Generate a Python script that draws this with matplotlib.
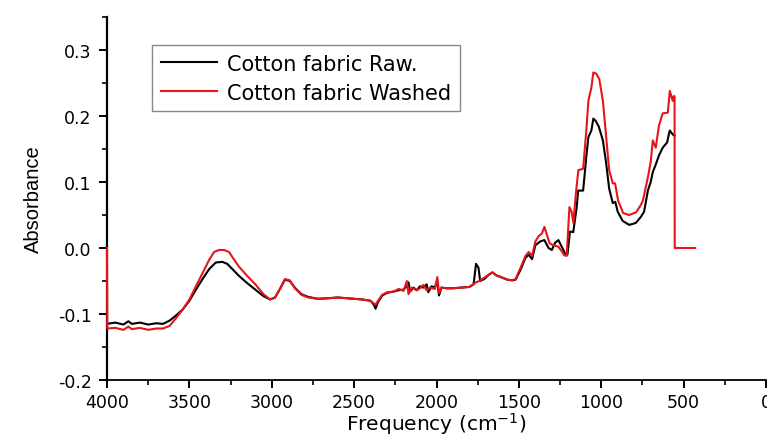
import matplotlib
matplotlib.use("Agg")
import matplotlib.pyplot as plt
from matplotlib.ticker import MultipleLocator
import numpy as np

plt.rcParams['font.family'] = ['DejaVu Sans']

# Spectre FTIR - tissu coton brut
nu_raw = [4000, 3950, 3900, 3870, 3850, 3800, 3750, 3700, 3660, 3620, 3580, 3540, 3500,
          3460, 3420, 3380, 3340, 3300, 3270, 3200, 3150, 3100, 3050, 3010, 2980, 2950,
          2920, 2890, 2860, 2820, 2780, 2720, 2650, 2600, 2550, 2500, 2450, 2400, 2380,
          2370, 2355, 2330, 2300, 2260, 2230, 2200, 2180, 2170, 2160, 2140, 2120, 2100,
          2080, 2060, 2050, 2030, 2010, 1995, 1985, 1970, 1940, 1900, 1850, 1800, 1775,
          1760, 1745, 1735, 1710, 1680, 1660, 1640, 1600, 1570, 1540, 1520, 1490, 1460,
          1440, 1420, 1400, 1370, 1345, 1320, 1300, 1280, 1260, 1240, 1220, 1205, 1190,
          1170, 1150, 1140, 1110, 1090, 1078, 1060, 1048, 1035, 1015, 990, 970, 952, 930,
          915, 900, 870, 830, 790, 760, 740, 717, 700, 687, 670, 650, 627, 600, 590, 584,
          566, 555]
abs_raw = [-0.115, -0.113, -0.116, -0.111, -0.115, -0.113, -0.116, -0.114, -0.115, -0.110,
           -0.102, -0.093, -0.080, -0.063, -0.047, -0.032, -0.022, -0.021, -0.024, -0.042,
           -0.053, -0.063, -0.073, -0.078, -0.075, -0.062, -0.048, -0.050, -0.060, -0.070,
           -0.074, -0.077, -0.076, -0.075, -0.076, -0.077, -0.078, -0.080, -0.086, -0.092,
           -0.082, -0.072, -0.068, -0.066, -0.064, -0.063, -0.058, -0.052, -0.066, -0.060,
           -0.064, -0.058, -0.060, -0.055, -0.067, -0.058, -0.060, -0.050, -0.072, -0.060,
           -0.061, -0.061, -0.060, -0.059, -0.055, -0.024, -0.030, -0.050, -0.047, -0.040,
           -0.037, -0.041, -0.045, -0.048, -0.049, -0.048, -0.033, -0.015, -0.010, -0.017,
           0.004, 0.010, 0.012, 0.000, -0.003, 0.008, 0.012, 0.002, -0.008, -0.010, 0.025,
           0.024, 0.060, 0.087, 0.087, 0.140, 0.168, 0.178, 0.196, 0.193, 0.184, 0.163,
           0.128, 0.090, 0.068, 0.070, 0.055, 0.041, 0.035, 0.038, 0.047, 0.055, 0.087,
           0.100, 0.115, 0.126, 0.140, 0.152, 0.160, 0.172, 0.178, 0.172, 0.170]

# Spectre FTIR - tissu coton lavé
nu_wash = [4000, 3998, 3950, 3900, 3870, 3850, 3800, 3750, 3700, 3660, 3620, 3580, 3540,
           3500, 3460, 3420, 3380, 3350, 3320, 3290, 3260, 3200, 3150, 3100, 3050, 3010,
           2980, 2950, 2920, 2890, 2860, 2820, 2780, 2720, 2650, 2600, 2550, 2500, 2450,
           2400, 2380, 2370, 2355, 2330, 2300, 2260, 2230, 2200, 2180, 2170, 2150, 2120,
           2100, 2080, 2060, 2040, 2010, 1995, 1985, 1970, 1940, 1900, 1850, 1800, 1760,
           1740, 1710, 1680, 1660, 1640, 1600, 1570, 1540, 1520, 1490, 1460, 1440, 1420,
           1400, 1380, 1360, 1345, 1330, 1313, 1290, 1260, 1240, 1225, 1210, 1193, 1180,
           1169, 1155, 1139, 1110, 1090, 1078, 1060, 1048, 1030, 1012, 990, 970, 952, 930,
           916, 898, 867, 831, 789, 760, 747, 717, 700, 687, 669, 650, 627, 596, 584, 566,
           560, 555, 554, 430]
abs_wash = [0.0, -0.122, -0.121, -0.124, -0.119, -0.123, -0.121, -0.124, -0.122, -0.122,
            -0.118, -0.106, -0.093, -0.078, -0.058, -0.038, -0.018, -0.006, -0.003, -0.003,
            -0.006, -0.028, -0.042, -0.055, -0.070, -0.078, -0.075, -0.062, -0.047, -0.049,
            -0.061, -0.071, -0.075, -0.077, -0.076, -0.075, -0.076, -0.077, -0.078, -0.080,
            -0.084, -0.086, -0.080, -0.071, -0.067, -0.066, -0.062, -0.065, -0.050, -0.070,
            -0.060, -0.064, -0.061, -0.056, -0.064, -0.060, -0.062, -0.044, -0.068, -0.060,
            -0.061, -0.061, -0.060, -0.059, -0.052, -0.050, -0.045, -0.040, -0.037, -0.041,
            -0.045, -0.048, -0.049, -0.047, -0.030, -0.012, -0.006, -0.012, 0.010, 0.018,
            0.022, 0.032, 0.020, 0.007, 0.004, 0.002, -0.005, -0.011, -0.012, 0.062, 0.055,
            0.038, 0.080, 0.118, 0.120, 0.180, 0.223, 0.243, 0.266, 0.264, 0.256, 0.223,
            0.168, 0.118, 0.098, 0.098, 0.072, 0.053, 0.050, 0.054, 0.065, 0.072, 0.107,
            0.130, 0.163, 0.152, 0.185, 0.204, 0.205, 0.238, 0.223, 0.230, 0.230, 0.0, 0.0]

labels = ['Cotton fabric Raw.', 'Cotton fabric Washed']

fig = plt.figure(figsize=(7.67, 4.39), dpi=100)
ax = fig.add_axes([107/767, 1 - 381/439, 659/767, (381 - 18)/439])

ax.plot(nu_raw, abs_raw, color='black', lw=1.5, label=labels[0], zorder=3)
ax.plot(nu_wash, abs_wash, color='#e8141b', lw=1.5, label=labels[1], zorder=3.5,
        clip_on=False)

ax.set_xlim(4000, 0)
ax.set_ylim(-0.2, 0.35)
ax.xaxis.set_major_locator(MultipleLocator(500))
ax.xaxis.set_minor_locator(MultipleLocator(250))
ax.yaxis.set_minor_locator(MultipleLocator(0.05))
ax.set_yticks([-0.2, -0.1, 0.0, 0.1, 0.2, 0.3])
ax.set_yticklabels(['-0.2', '-0.1', '0.0', '0.1', '0.2', '0.3'])

for s in ['top', 'right']:
    ax.spines[s].set_visible(False)
ax.spines['left'].set_linewidth(1.6)
ax.spines['bottom'].set_linewidth(1.3)
ax.tick_params(which='major', direction='out', length=6, width=1.4, labelsize=12.5)
ax.tick_params(axis='y', which='major', pad=5)
ax.tick_params(which='minor', direction='out', length=3.5, width=1.2)

ax.set_xlabel('Frequency (cm$^{-1}$)', fontsize=14.5, labelpad=-1)
ax.set_ylabel('Absorbance', fontsize=14.5, labelpad=11, family=['Liberation Sans'])

leg = ax.legend(loc='upper left', bbox_to_anchor=(152/767, 1 - 46/439),
                bbox_transform=fig.transFigure, fontsize=15, frameon=True,
                fancybox=False, handlelength=2.7, handletextpad=0.5,
                borderpad=0.41, labelspacing=0.44, borderaxespad=0)
leg.get_frame().set_edgecolor('#888888')
leg.get_frame().set_linewidth(1.0)
leg.get_frame().set_alpha(1)

fig.savefig('out.png', dpi=100)
